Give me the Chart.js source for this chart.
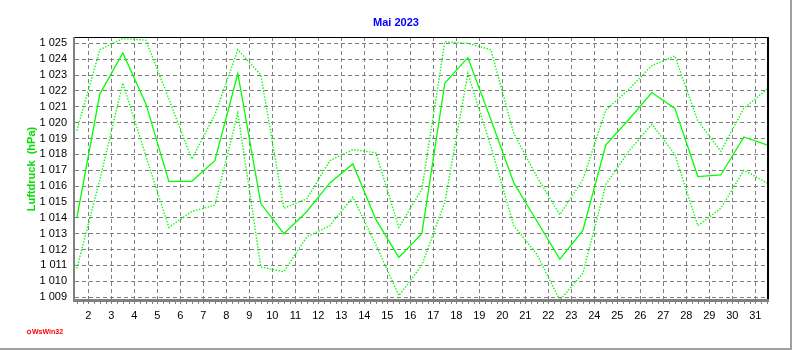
<!DOCTYPE html>
<html>
<head>
  <meta charset="utf-8">
  <title>Luftdruck Mai 2023</title>
  <style>
    html, body { margin: 0; padding: 0; background: #fff; }
  </style>
</head>
<body>
  <canvas id="chart" width="792" height="350"></canvas>

  <script src="https://cdn.jsdelivr.net/npm/chart.js@4.4.0/dist/chart.umd.min.js"></script>
  <script>
    // Tageswerte Mai 2023 (hPa)
    var days = [1, 2, 3, 4, 5, 6, 7, 8, 9, 10, 11, 12, 13, 14, 15, 16, 17, 18, 19, 20, 21, 22, 23, 24, 25, 26, 27, 28, 29, 30, 31];
    var mittel = [1014.0, 1021.8, 1024.4, 1021.2, 1016.3, 1016.3, 1017.6, 1023.1, 1014.9, 1013.0, 1014.4, 1016.2, 1017.4, 1013.9, 1011.5, 1013.0,
                  1022.5, 1024.1, 1020.2, 1016.2, 1013.8, 1011.4, 1013.2, 1018.6, 1020.2, 1021.9, 1020.9, 1016.6, 1016.7, 1019.1, 1018.6];
    var maximum = [1019.5, 1024.6, 1025.3, 1025.2, 1021.5, 1017.7, 1020.5, 1024.6, 1023.0, 1014.6, 1015.2, 1017.6, 1018.3, 1018.1, 1013.4, 1015.8,
                   1025.1, 1025.0, 1024.6, 1019.3, 1016.6, 1014.2, 1016.4, 1020.8, 1022.1, 1023.6, 1024.2, 1020.1, 1018.2, 1020.9, 1022.1];
    var minimum = [1010.8, 1016.4, 1022.5, 1017.9, 1013.4, 1014.4, 1014.8, 1020.6, 1010.9, 1010.6, 1012.8, 1013.5, 1015.3, 1012.3, 1009.1, 1011.0,
                   1015.0, 1023.1, 1018.5, 1013.5, 1011.7, 1008.8, 1010.5, 1016.1, 1018.2, 1019.9, 1018.0, 1013.5, 1014.6, 1017.0, 1016.2];
    var xTicks = [2, 3, 4, 5, 6, 7, 8, 9, 10, 11, 12, 13, 14, 15, 16, 17, 18, 19, 20, 21, 22, 23, 24, 25, 26, 27, 28, 29, 30, 31];
    var yTicks = [1009, 1010, 1011, 1012, 1013, 1014, 1015, 1016, 1017, 1018, 1019, 1020, 1021, 1022, 1023, 1024, 1025];

    var FONT = '"Liberation Sans", Arial, sans-serif';
    var GRUEN = '#00ff00';

    // Werte jeweils in Tagesmitte
    function punkte(werte) {
      return days.map(function (d, i) { return { x: d + 0.5, y: werte[i] }; });
    }

    // 1 025 statt 1025
    function tausender(v) {
      return String(v).replace(/\B(?=(\d{3})+(?!\d))/g, ' ');
    }

    var rahmen = {
      id: 'rahmen',
      afterDraw: function (chart) {
        var c = chart.ctx, a = chart.chartArea, sx = chart.scales.x;
        c.save();
        // Rahmen oben / rechts
        c.fillStyle = '#000';
        c.fillRect(a.left, a.top, a.right - a.left + 1, 1);
        c.fillRect(a.right - 1, a.top, 2, a.bottom - a.top);
        // Achsen links / unten
        c.fillStyle = '#808080';
        c.fillRect(a.left - 2, a.top, 2, a.bottom - a.top + 3);
        c.fillRect(a.left - 2, a.bottom, a.right - a.left + 3, 3);
        // kleine Striche (6 h)
        for (var t = Math.ceil(sx.min * 4) / 4; t <= sx.max; t += 0.25) {
          c.fillRect(Math.round(sx.getPixelForValue(t)), a.bottom + 3, 1, 2);
        }
        // Titel
        c.textAlign = 'center';
        c.textBaseline = 'middle';
        c.font = 'bold 11px ' + FONT;
        c.fillStyle = '#0000ff';
        c.fillText('Mai 2023', chart.width / 2, 23);
        // Achsentitel
        c.save();
        c.translate(32, 169);
        c.rotate(-Math.PI / 2);
        c.fillStyle = '#00e000';
        c.fillText('Luftdruck  (hPa)', 0, 0);
        c.restore();
        // Logo
        c.strokeStyle = '#ff0000';
        c.lineWidth = 1;
        c.beginPath();
        c.arc(29, 332, 1.8, 0, Math.PI * 2);
        c.stroke();
        c.fillStyle = '#ff0000';
        c.textAlign = 'left';
        c.font = 'bold 7px ' + FONT;
        c.fillText('WsWin32', 32, 332.5);
        // Bildrand
        c.fillStyle = '#a0a0a0';
        c.fillRect(chart.width - 2, 0, 2, chart.height);
        c.fillRect(0, chart.height - 2, chart.width, 2);
        c.restore();
      }
    };

    var ctx = document.getElementById('chart').getContext('2d');
    var chart = new Chart(ctx, {
      type: 'line',
      data: {
        datasets: [
          { label: 'Mittel', data: punkte(mittel), borderColor: GRUEN, borderWidth: 1.3 },
          { label: 'Maximum', data: punkte(maximum), borderColor: GRUEN, borderWidth: 1.4, borderDash: [1.4, 1.6] },
          { label: 'Minimum', data: punkte(minimum), borderColor: GRUEN, borderWidth: 1.4, borderDash: [1.4, 1.6] }
        ]
      },
      options: {
        responsive: false,
        animation: false,
        layout: { padding: { left: 0, top: 37, right: 24, bottom: 0 } },
        elements: {
          point: { radius: 0 },
          line: { tension: 0, fill: false }
        },
        plugins: {
          legend: { display: false },
          title: { display: false },
          tooltip: { enabled: false }
        },
        scales: {
          x: {
            type: 'linear',
            min: 1.42,
            max: 31.55,
            afterBuildTicks: function (s) { s.ticks = xTicks.map(function (v) { return { value: v }; }); },
            afterFit: function (s) { s.height = 51; },
            grid: { color: '#808080', lineWidth: 1, drawTicks: false },
            border: { display: false, dash: [4, 3] },
            ticks: { color: '#000', padding: 10, maxRotation: 0, autoSkip: false, font: { family: FONT, size: 11 } }
          },
          y: {
            min: 1008.88,
            max: 1025.4,
            afterBuildTicks: function (s) { s.ticks = yTicks.map(function (v) { return { value: v }; }); },
            afterFit: function (s) { s.width = 75; },
            grid: { color: '#808080', lineWidth: 1, drawTicks: false },
            border: { display: false, dash: [4, 3] },
            ticks: { color: '#000', padding: 8, font: { family: FONT, size: 11 }, callback: tausender }
          }
        }
      },
      plugins: [rahmen]
    });
  </script>
</body>
</html>
